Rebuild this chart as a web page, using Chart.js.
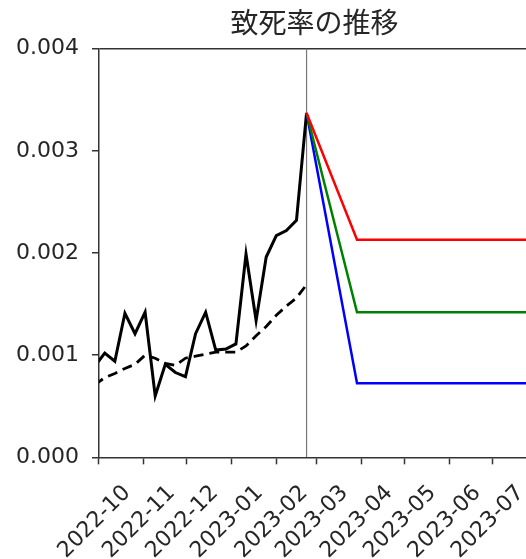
<!DOCTYPE html>
<html>
<head>
<meta charset="utf-8">
<script src="https://cdn.jsdelivr.net/npm/chart.js@4/dist/chart.umd.min.js"></script>
<style>
  html, body { margin: 0; padding: 0; overflow: hidden; background: #fff; }
  #wrap { width: 530px; height: 559px; }
</style>
</head>
<body>
<div id="wrap"><canvas id="chart" width="530" height="559"></canvas></div>
<script>
// weekly observed data
const weekDates = ['2022-09-28', '2022-10-05', '2022-10-12', '2022-10-19', '2022-10-26',
    '2022-11-02', '2022-11-09', '2022-11-16', '2022-11-23', '2022-11-30',
    '2022-12-07', '2022-12-14', '2022-12-21', '2022-12-28',
    '2023-01-04', '2023-01-11', '2023-01-18', '2023-01-25',
    '2023-02-01', '2023-02-08', '2023-02-15', '2023-02-22'];
const deathRate = [0.00089, 0.00102, 0.00094, 0.00141, 0.00121,
    0.00142, 0.00060, 0.00091, 0.00083, 0.00079,
    0.00121, 0.00142, 0.00105, 0.00106,
    0.00111, 0.00199, 0.00134, 0.00196,
    0.00217, 0.00222, 0.00232, 0.00337];
const trendRate = [0.00071, 0.00078, 0.00082, 0.00087, 0.00091,
    0.00100, 0.00097, 0.00092, 0.00090, 0.00097,
    0.00099, 0.00101, 0.00103, 0.00103,
    0.00103, 0.00109, 0.00119, 0.00128,
    0.00139, 0.00148, 0.00156, 0.00169];

// projections
const projDates = ['2023-02-22', '2023-03-29', '2023-08-02'];
const projHigh = [0.00337, 0.00213, 0.00213];
const projMid = [0.00337, 0.00142, 0.00142];
const projLow = [0.00337, 0.000725, 0.000725];

// current date marker
const markerDate = '2023-02-22';

// axes
const tickLabels = ['2022-10', '2022-11', '2022-12', '2023-01', '2023-02',
    '2023-03', '2023-04', '2023-05', '2023-06', '2023-07'];
const xMin = '2022-10-01';
const xMax = '2023-07-27';
const yMin = 0;
const yMax = 0.004;

const toMs = s => Date.parse(s);
const pairs = (dates, vals) => dates.map((d, i) => ({ x: toMs(d), y: vals[i] }));

const axisColor = '#333';
const textColor = '#262626';

const ctx = document.getElementById('chart').getContext('2d');

const myChart = new Chart(ctx, {
    type: 'line',
    data: {
        datasets: [
            { data: pairs(projDates, projHigh), borderColor: '#ff0000', borderWidth: 2.5 },
            { data: pairs(projDates, projMid), borderColor: '#008000', borderWidth: 2.5 },
            { data: pairs(projDates, projLow), borderColor: '#0000ff', borderWidth: 2.5 },
            { data: pairs(weekDates, deathRate), borderColor: '#000', borderWidth: 3 },
            { data: pairs(weekDates, trendRate), borderColor: '#000', borderWidth: 2.8, borderDash: [10, 6] },
            { data: [{ x: toMs(markerDate), y: yMin }, { x: toMs(markerDate), y: yMax }],
              borderColor: '#777', borderWidth: 1.2 }
        ]
    },
    options: {
        responsive: false,
        animation: false,
        events: [],
        elements: {
            point: { radius: 0 },
            line: { tension: 0, fill: false }
        },
        layout: {
            padding: { left: 3, right: 0, top: 0, bottom: -21 }
        },
        plugins: {
            legend: { display: false },
            tooltip: { enabled: false },
            title: {
                display: true,
                text: '致死率の推移',
                fullSize: false,
                color: textColor,
                font: { family: '"Noto Sans CJK JP"', size: 28, weight: 'normal' },
                padding: { top: 6, bottom: 9 }
            }
        },
        scales: {
            x: {
                type: 'linear',
                min: toMs(xMin),
                max: toMs(xMax),
                afterBuildTicks: scale => {
                    scale.ticks = tickLabels.map(l => ({ value: toMs(l + '-01') }));
                },
                ticks: {
                    autoSkip: false,
                    minRotation: 45,
                    maxRotation: 45,
                    labelOffset: 28,
                    padding: 16,
                    color: textColor,
                    font: { family: '"DejaVu Sans"', size: 22 },
                    callback: (v, i) => tickLabels[i]
                },
                grid: {
                    drawOnChartArea: false,
                    drawTicks: true,
                    tickLength: 7,
                    tickColor: axisColor,
                    tickWidth: 1.5
                },
                border: { display: true, color: axisColor, width: 1.5 }
            },
            y: {
                min: yMin,
                max: yMax,
                ticks: {
                    stepSize: 0.001,
                    padding: 13,
                    color: textColor,
                    font: { family: '"DejaVu Sans"', size: 22 },
                    callback: v => v.toFixed(3)
                },
                grid: {
                    drawTicks: true,
                    tickLength: 7,
                    tickColor: axisColor,
                    tickWidth: 1.5,
                    lineWidth: 1.5,
                    // only the top frame line
                    color: c => (c.tick && c.tick.value === yMax) ? axisColor : 'rgba(0,0,0,0)'
                },
                border: { display: true, color: axisColor, width: 1.5 }
            }
        }
    }
});
</script>
</body>
</html>
